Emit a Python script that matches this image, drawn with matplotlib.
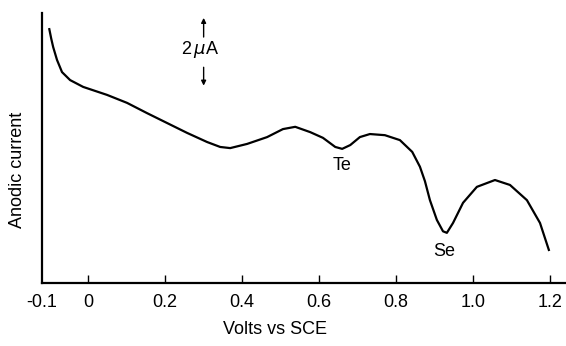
import matplotlib.pyplot as plt

# curve (volts, current in uA-ish arbitrary units)
volts = [-0.101, -0.096, -0.091, -0.081, -0.068, -0.047, -0.013, 0.049, 0.101, 0.153,
         0.205, 0.257, 0.309, 0.343, 0.369, 0.413, 0.465, 0.506, 0.538, 0.577, 0.610,
         0.642, 0.660, 0.681, 0.706, 0.732, 0.771, 0.810, 0.842, 0.862, 0.875, 0.888,
         0.906, 0.922, 0.932, 0.948, 0.974, 1.010, 1.057, 1.096, 1.140, 1.174, 1.197]
current = [6.68, 6.43, 6.21, 5.87, 5.55, 5.34, 5.16, 4.95, 4.74, 4.47,
           4.21, 3.95, 3.71, 3.58, 3.55, 3.66, 3.84, 4.05, 4.11, 3.97, 3.82,
           3.58, 3.53, 3.63, 3.84, 3.92, 3.89, 3.76, 3.45, 3.06, 2.68, 2.18,
           1.66, 1.36, 1.32, 1.58, 2.11, 2.53, 2.71, 2.58, 2.18, 1.58, 0.87]

tick_pos = [-0.12, 0, 0.2, 0.4, 0.6, 0.8, 1.0, 1.2]
tick_labels = ['-0.1', '0', '0.2', '0.4', '0.6', '0.8', '1.0', '1.2']

plt.rcParams['font.family'] = ['Liberation Sans', 'DejaVu Sans']

fig = plt.figure(figsize=(5.66, 3.46), dpi=100)
ax = fig.add_axes([42/566, 63/346, 1 - 42/566, 270/346])

ax.plot(volts, current, color='black', lw=1.6, solid_joinstyle='round')

ax.set_xlim(-0.12, (566 - 88) / 385)
ax.set_ylim(0, 270 / 38)
ax.spines['top'].set_visible(False)
ax.spines['right'].set_visible(False)
ax.spines['left'].set_linewidth(1.6)
ax.spines['bottom'].set_linewidth(1.6)
ax.set_yticks([])
ax.set_xticks(tick_pos)
ax.set_xticklabels(tick_labels)
ax.tick_params(axis='x', direction='in', length=6, width=1, labelsize=13, pad=8)
ax.get_xticklines()[0].set_visible(False)

# scale marker
ax.annotate('', xy=(0.30, 7.05), xytext=(0.30, 6.4),
            arrowprops=dict(arrowstyle='-|>', color='black', lw=1, mutation_scale=7))
ax.annotate('', xy=(0.30, 5.12), xytext=(0.30, 5.75),
            arrowprops=dict(arrowstyle='-|>', color='black', lw=1, mutation_scale=7))
ax.text(0.29, 6.15, r'2$\,\mu$A', ha='center', va='center', fontsize=13)

ax.text(0.66, 3.1, 'Te', ha='center', va='center', fontsize=13)
ax.text(0.925, 0.84, 'Se', ha='center', va='center', fontsize=13)

fig.text(275/566, 1 - 330/346, 'Volts vs SCE', ha='center', va='center', fontsize=13)
fig.text(18/566, 1 - 170/346, 'Anodic current', ha='center', va='center', rotation=90, fontsize=13)

fig.savefig('out.png', dpi=100)
